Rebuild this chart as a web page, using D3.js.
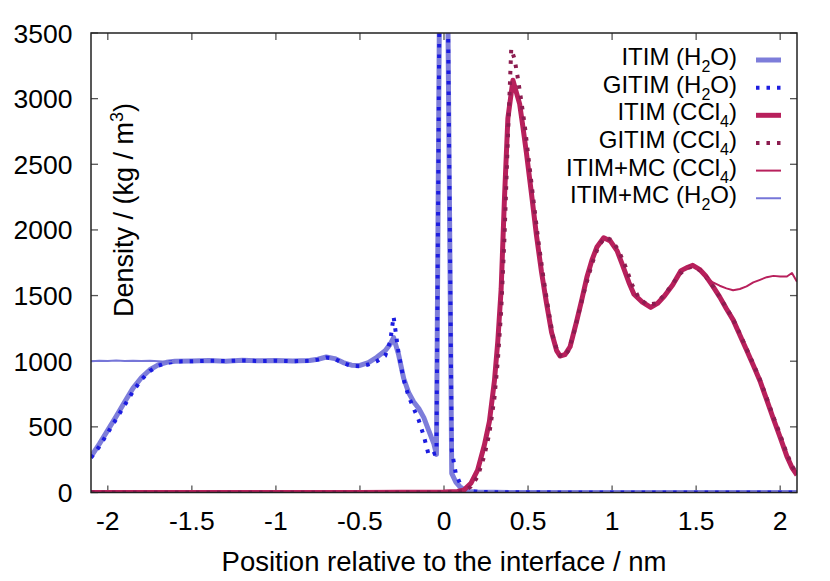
<!DOCTYPE html>
<html>
<head>
<meta charset="utf-8">
<script src="https://cdnjs.cloudflare.com/ajax/libs/d3/7.8.5/d3.min.js"></script>
<style>
  body { margin: 0; background: #fff; }
  text { font-family: "Liberation Sans", Arial, sans-serif; fill: #000; }
</style>
</head>
<body>
<svg id="chart" width="830" height="581"></svg>
<script>

// water, ITIM / GITIM (positions in nm, density in kg/m3)
var waterX = [-2.10, -2.05, -2.00, -1.95, -1.90, -1.85, -1.80, -1.75, -1.70, -1.65, -1.60, -1.50, -1.40, -1.30, -1.20, -1.10, -1.00, -0.90, -0.80, -0.75, -0.70, -0.65, -0.60, -0.55, -0.50, -0.45, -0.40, -0.35, -0.32, -0.30, -0.27, -0.24, -0.21, -0.18, -0.15, -0.12, -0.09, -0.06, -0.045, -0.005, 0.046, 0.07, 0.095, 0.12, 0.15, 0.20, 0.30, 1.00, 2.10];
var itimWater = [273, 370, 475, 580, 690, 795, 875, 935, 972, 992, 1000, 1002, 1005, 1000, 1007, 1003, 1006, 1002, 1005, 1015, 1032, 1020, 990, 970, 968, 990, 1030, 1080, 1130, 1180, 1050, 870, 760, 690, 640, 570, 470, 370, 290, 7900, 146, 80, 44, 20, 8, 3, 1, 0, 0];
var gitimWater = [265, 350, 455, 560, 665, 770, 860, 925, 965, 988, 998, 1000, 1003, 1002, 1006, 1001, 1004, 1000, 1003, 1012, 1028, 1018, 985, 965, 962, 975, 1000, 1040, 1150, 1340, 1060, 860, 730, 640, 550, 430, 280, 295, 300, 7900, 320, 146, 70, 35, 12, 5, 2, 0, 0];

// CCl4, ITIM / GITIM
var ccl4X = [-2.10, -0.50, 0.00, 0.08, 0.12, 0.16, 0.20, 0.24, 0.27, 0.30, 0.32, 0.34, 0.36, 0.38, 0.41, 0.43, 0.45, 0.47, 0.49, 0.52, 0.55, 0.58, 0.61, 0.64, 0.67, 0.69, 0.72, 0.75, 0.79, 0.82, 0.85, 0.88, 0.91, 0.95, 0.99, 1.03, 1.06, 1.10, 1.13, 1.18, 1.23, 1.27, 1.31, 1.36, 1.41, 1.45, 1.48, 1.52, 1.56, 1.60, 1.64, 1.68, 1.72, 1.76, 1.80, 1.84, 1.88, 1.92, 1.96, 2.00, 2.04, 2.07, 2.10];
var itimCcl4 = [0, 0, 3, 8, 20, 70, 170, 360, 540, 850, 1150, 1550, 2250, 2850, 3140, 3050, 2960, 2780, 2590, 2280, 1960, 1680, 1440, 1220, 1080, 1040, 1050, 1110, 1310, 1470, 1640, 1770, 1870, 1940, 1915, 1840, 1740, 1600, 1510, 1450, 1410, 1440, 1495, 1580, 1690, 1715, 1730, 1700, 1645, 1570, 1490, 1400, 1315, 1200, 1085, 970, 850, 705, 560, 420, 275, 190, 133];
var gitimCcl4X = [-2.10, -0.50, 0.00, 0.08, 0.12, 0.16, 0.20, 0.24, 0.27, 0.30, 0.32, 0.34, 0.36, 0.38, 0.40, 0.42, 0.44, 0.46, 0.48, 0.50, 0.53, 0.56, 0.59, 0.62, 0.65, 0.68, 0.71, 0.74, 0.77, 0.80, 0.84, 0.88, 0.92, 0.96, 1.00, 1.04, 1.08, 1.12, 1.16, 1.21, 1.26, 1.30, 1.35, 1.40, 1.44, 1.48, 1.52, 1.56, 1.60, 1.64, 1.68, 1.72, 1.76, 1.80, 1.84, 1.88, 1.92, 1.96, 2.00, 2.04, 2.07, 2.10];
var gitimCcl4 = [0, 0, 2, 5, 12, 45, 120, 280, 450, 720, 1000, 1380, 1950, 2700, 3380, 3300, 3150, 2980, 2800, 2580, 2250, 1930, 1650, 1400, 1180, 1050, 1030, 1080, 1200, 1360, 1560, 1740, 1880, 1945, 1920, 1840, 1720, 1580, 1480, 1430, 1440, 1490, 1570, 1660, 1710, 1720, 1695, 1640, 1570, 1490, 1405, 1320, 1210, 1095, 980, 860, 720, 575, 440, 295, 205, 140];

// ITIM+MC, only where it leaves the ITIM curves
var mcCcl4X = [1.41, 1.45, 1.48, 1.52, 1.56, 1.60, 1.64, 1.68, 1.72, 1.76, 1.80, 1.84, 1.88, 1.92, 1.96, 2.00, 2.04, 2.07, 2.10];
var mcCcl4 = [1690, 1715, 1730, 1700, 1640, 1600, 1575, 1555, 1540, 1550, 1570, 1600, 1620, 1640, 1650, 1645, 1645, 1672, 1606];
var mcWaterX = [-2.10, -2.05, -2.00, -1.95, -1.90, -1.85, -1.80, -1.75, -1.70, -1.65, -1.60];
var mcWater = [1000, 1003, 1001, 1005, 1002, 1004, 1002, 1003, 1000, 995, 1000];

var xTicks = [-2, -1.5, -1, -0.5, 0, 0.5, 1, 1.5, 2];
var xTickLabels = ['-2', '-1.5', '-1', '-0.5', '0', '0.5', '1', '1.5', '2'];
var yTicks = [0, 500, 1000, 1500, 2000, 2500, 3000, 3500];

var legendLabels = [
    ['ITIM (H', '2', 'O)'],
    ['GITIM (H', '2', 'O)'],
    ['ITIM (CCl', '4', ')'],
    ['GITIM (CCl', '4', ')'],
    ['ITIM+MC (CCl', '4', ')'],
    ['ITIM+MC (H', '2', 'O)']
];

var styles = [
    { color: '#7676d8', width: 5, dash: null, opacity: 0.95 },
    { color: '#1c1ce0', width: 4, dash: '3.5,7', opacity: 1 },
    { color: '#b8205c', width: 5, dash: null, opacity: 1 },
    { color: '#8c1c50', width: 4, dash: '3.5,7', opacity: 1 },
    { color: '#b8205c', width: 2, dash: null, opacity: 1 },
    { color: '#7676d8', width: 2, dash: null, opacity: 1 }
];

var series = [
    { xs: waterX, ys: itimWater },
    { xs: waterX, ys: gitimWater },
    { xs: ccl4X, ys: itimCcl4 },
    { xs: gitimCcl4X, ys: gitimCcl4 },
    { xs: mcCcl4X, ys: mcCcl4 },
    { xs: mcWaterX, ys: mcWater }
];

var margin = { left: 91, right: 797, top: 33, bottom: 492.5 };

var svg = d3.select('#chart');

var x = d3.scaleLinear().domain([-2.1, 2.1]).range([margin.left, margin.right]);
var y = d3.scaleLinear().domain([0, 3500]).range([margin.bottom, margin.top]);

svg.append('defs').append('clipPath').attr('id', 'plotclip')
    .append('rect')
    .attr('x', margin.left).attr('y', margin.top)
    .attr('width', margin.right - margin.left)
    .attr('height', margin.bottom - margin.top);

// ticks on all four sides, pointing inward
var tickLen = 7;
var tickG = svg.append('g').attr('stroke', '#555').attr('stroke-width', 1.3);

xTicks.forEach(function(t) {
    tickG.append('line').attr('x1', x(t)).attr('x2', x(t))
        .attr('y1', margin.bottom).attr('y2', margin.bottom - tickLen);
    tickG.append('line').attr('x1', x(t)).attr('x2', x(t))
        .attr('y1', margin.top).attr('y2', margin.top + tickLen);
});

yTicks.forEach(function(t) {
    tickG.append('line').attr('y1', y(t)).attr('y2', y(t))
        .attr('x1', margin.left).attr('x2', margin.left + tickLen);
    tickG.append('line').attr('y1', y(t)).attr('y2', y(t))
        .attr('x1', margin.right).attr('x2', margin.right - tickLen);
});

// curves
var line = d3.line()
    .x(function(d) { return x(d[0]); })
    .y(function(d) { return y(d[1]); });

var curveG = svg.append('g').attr('clip-path', 'url(#plotclip)');

series.forEach(function(s, i) {
    var pts = s.xs.map(function(v, j) { return [v, s.ys[j]]; });
    var st = styles[i];
    curveG.append('path')
        .attr('d', line(pts))
        .attr('fill', 'none')
        .attr('stroke', st.color)
        .attr('stroke-width', st.width)
        .attr('stroke-opacity', st.opacity)
        .attr('stroke-dasharray', st.dash)
        .attr('stroke-linejoin', 'round');
});

// frame
svg.append('rect')
    .attr('x', margin.left).attr('y', margin.top)
    .attr('width', margin.right - margin.left)
    .attr('height', margin.bottom - margin.top)
    .attr('fill', 'none')
    .attr('stroke', '#222')
    .attr('stroke-width', 1.5);

// tick labels
svg.selectAll('.xlab').data(xTicks).enter().append('text')
    .attr('class', 'xlab')
    .attr('x', function(d) { return x(d); })
    .attr('y', 530)
    .attr('text-anchor', 'middle')
    .attr('font-size', 26.5)
    .text(function(d, i) { return xTickLabels[i]; });

svg.selectAll('.ylab').data(yTicks).enter().append('text')
    .attr('class', 'ylab')
    .attr('x', 72.5)
    .attr('y', function(d) { return y(d) + 9.5; })
    .attr('text-anchor', 'end')
    .attr('font-size', 26.5)
    .text(function(d) { return d; });

// axis titles
svg.append('text')
    .attr('x', 444)
    .attr('y', 571)
    .attr('text-anchor', 'middle')
    .attr('font-size', 27.5)
    .text('Position relative to the interface / nm');

var ytitle = svg.append('text')
    .attr('transform', 'translate(133,317) rotate(-90)')
    .attr('text-anchor', 'start')
    .attr('font-size', 27);
ytitle.append('tspan').text('Density / (kg / m');
ytitle.append('tspan').attr('dy', -10).attr('font-size', 18).text('3');
ytitle.append('tspan').attr('dy', 10).text(')');

// legend
var legend = svg.append('g');

legendLabels.forEach(function(lab, i) {
    var ly = 60 + i * 27.65;
    var st = styles[i];
    var t = legend.append('text')
        .attr('x', 737)
        .attr('y', ly + 5)
        .attr('text-anchor', 'end')
        .attr('font-size', 24);
    t.append('tspan').text(lab[0]);
    t.append('tspan').attr('dy', 7).attr('font-size', 16).text(lab[1]);
    t.append('tspan').attr('dy', -7).text(lab[2]);

    legend.append('line')
        .attr('x1', 756).attr('x2', 781)
        .attr('y1', ly).attr('y2', ly)
        .attr('stroke', st.color)
        .attr('stroke-width', st.width)
        .attr('stroke-opacity', st.opacity)
        .attr('stroke-dasharray', st.dash);
});

</script>
</body>
</html>
